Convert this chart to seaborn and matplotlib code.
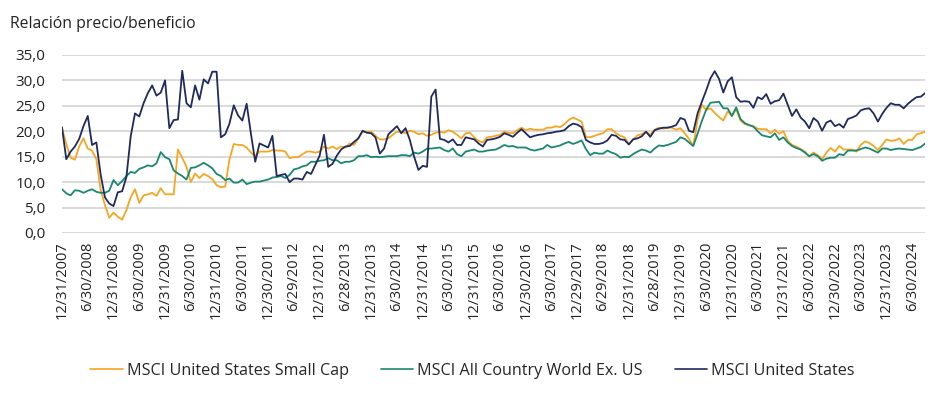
"""
Relación precio/beneficio: MSCI US Small Cap, ACWI ex US, MSCI US.
"""
import matplotlib
matplotlib.use("Agg")
import matplotlib.pyplot as plt
import matplotlib.ticker as mticker
import pandas as pd
import seaborn as sns

# fin de mes, 12/2007 .. 9/2024 (202 meses)
small_cap = [
    20.6, 17.5, 14.8, 14.4, 17.0, 18.6, 16.6, 16.2, 14.5, 8.5, 5.5, 3.0,
    4.0, 3.2, 2.6, 4.5, 7.0, 8.6, 5.9, 7.4, 7.6, 7.9, 7.3, 8.8,
    7.6, 7.6, 7.6, 16.4, 14.8, 13.0, 10.0, 11.7, 10.8, 11.6, 11.2, 10.6,
    9.4, 9.0, 9.1, 14.5, 17.5, 17.3, 17.3, 16.8, 15.8, 15.1, 16.0, 16.0,
    16.0, 16.3, 16.2, 16.2, 16.0, 14.7, 14.9, 14.9, 15.5, 16.0, 16.0, 15.8,
    16.0, 17.0, 16.6, 17.0, 16.5, 17.0, 16.8, 17.6, 17.3, 18.6, 19.9, 19.9,
    19.9, 19.1, 18.4, 18.4, 18.6, 19.3, 19.9, 19.9, 19.6, 20.1, 19.9, 19.4,
    19.6, 19.1, 19.3, 19.7, 19.9, 19.7, 20.2, 19.9, 19.3, 18.6, 19.6, 19.7,
    18.8, 18.1, 17.8, 18.8, 18.9, 19.1, 19.3, 19.9, 19.7, 19.6, 20.2, 20.7,
    20.2, 20.5, 20.3, 20.3, 20.3, 20.7, 20.7, 21.0, 20.8, 21.4, 22.2, 22.7,
    22.3, 21.9, 18.9, 18.8, 19.1, 19.4, 19.6, 20.4, 20.4, 19.6, 19.1, 18.8,
    17.5, 18.4, 19.2, 19.4, 19.9, 19.3, 20.3, 20.7, 20.5, 20.7, 20.7, 20.3,
    20.6, 19.6, 18.5, 17.1, 22.2, 25.2, 24.2, 24.5, 23.6, 22.8, 22.1, 23.9,
    23.0, 24.3, 22.1, 21.4, 21.2, 21.0, 20.5, 20.4, 20.4, 19.6, 20.3, 19.5,
    20.0, 18.1, 17.3, 17.0, 16.5, 16.0, 15.0, 15.8, 15.3, 14.5, 15.8, 16.7,
    16.0, 17.1, 16.4, 16.4, 16.4, 16.0, 17.3, 18.0, 17.7, 17.1, 16.3, 17.3,
    18.4, 18.1, 18.2, 18.6, 17.5, 18.3, 18.3, 19.4, 19.6, 19.9,
]
acwi_ex_us = [
    8.6, 7.8, 7.4, 8.4, 8.3, 7.9, 8.3, 8.6, 8.1, 7.9, 7.9, 8.3,
    10.4, 9.4, 10.2, 11.2, 12.0, 11.8, 12.6, 12.9, 13.3, 13.1, 13.7, 15.9,
    14.9, 14.5, 12.3, 11.7, 11.2, 10.5, 12.8, 12.9, 13.3, 13.8, 13.3, 12.7,
    11.6, 11.2, 10.4, 10.7, 9.9, 9.9, 10.5, 9.6, 9.9, 10.1, 10.1, 10.3,
    10.5, 10.9, 11.0, 11.2, 10.8, 11.4, 12.5, 12.7, 13.1, 13.3, 14.0, 14.0,
    14.2, 14.3, 14.7, 14.3, 14.3, 13.7, 14.0, 14.0, 14.3, 15.1, 15.1, 15.3,
    14.9, 15.0, 14.9, 15.0, 15.1, 15.1, 15.1, 15.3, 15.3, 15.1, 15.8, 15.6,
    16.0, 16.6, 16.6, 16.7, 16.8, 16.3, 16.0, 16.6, 15.5, 15.1, 16.0, 16.2,
    16.4, 16.0, 16.0, 16.2, 16.3, 16.4, 16.8, 17.3, 17.0, 17.1, 16.8, 16.8,
    16.8, 16.4, 16.2, 16.4, 16.6, 17.3, 16.8, 17.0, 17.2, 17.6, 17.9, 17.5,
    17.8, 18.2, 16.5, 15.3, 15.8, 15.6, 15.6, 16.2, 15.8, 15.5, 14.8, 15.0,
    14.9, 15.5, 16.0, 16.4, 16.2, 15.8, 16.6, 17.2, 17.1, 17.3, 17.6, 17.9,
    18.8, 18.5, 17.8, 17.1, 19.5, 22.0, 24.2, 25.6, 25.7, 25.8, 24.5, 24.5,
    23.0, 24.7, 22.4, 21.6, 21.2, 20.9, 20.0, 19.2, 19.0, 18.8, 19.6, 18.3,
    18.8, 17.8, 17.1, 16.7, 16.4, 15.8, 15.1, 15.5, 15.1, 14.2, 14.6, 14.8,
    14.8, 15.5, 15.3, 16.2, 16.2, 16.2, 16.5, 16.8, 16.6, 16.2, 15.8, 16.6,
    16.6, 16.3, 16.5, 16.6, 16.5, 16.4, 16.3, 16.6, 16.9, 17.6,
]
msci_us = [
    20.8, 14.5, 16.0, 17.0, 18.5, 21.0, 23.0, 17.3, 17.8, 11.5, 7.0, 5.8,
    5.3, 8.0, 8.2, 11.0, 19.0, 23.5, 22.9, 25.5, 27.5, 29.0, 27.0, 27.6,
    30.0, 20.6, 22.2, 22.3, 31.9, 25.5, 24.7, 29.0, 26.2, 30.2, 29.4, 31.7,
    31.7, 18.8, 19.4, 21.5, 25.1, 23.1, 22.1, 25.4, 19.5, 14.0, 17.6, 17.2,
    16.8, 19.1, 11.2, 11.4, 11.6, 10.0, 10.7, 10.7, 10.5, 12.0, 11.6, 13.4,
    15.2, 19.3, 13.0, 13.6, 15.2, 16.4, 17.0, 17.1, 17.9, 18.6, 20.1, 19.7,
    19.6, 18.8, 15.6, 16.6, 19.4, 20.2, 21.0, 19.6, 20.6, 18.3, 15.0, 12.4,
    13.2, 13.0, 26.8, 28.2, 18.5, 18.3, 17.8, 18.4, 17.3, 17.3, 18.8, 18.6,
    18.4, 17.6, 17.0, 18.3, 18.4, 18.6, 18.9, 19.6, 19.3, 18.9, 19.7, 20.4,
    19.6, 18.8, 19.1, 19.3, 19.4, 19.6, 19.7, 19.9, 20.0, 20.2, 21.0, 21.5,
    21.3, 20.8, 18.3, 17.8, 17.5, 17.5, 17.7, 18.2, 19.3, 19.1, 18.4, 18.3,
    17.4, 18.4, 18.6, 19.0, 19.9, 18.9, 20.2, 20.5, 20.7, 20.7, 20.9, 21.2,
    22.6, 22.3, 20.1, 19.8, 23.5, 25.8, 28.0, 30.4, 31.8, 30.3, 27.6, 29.8,
    30.6, 26.7, 25.8, 25.9, 25.8, 24.6, 26.7, 26.3, 27.3, 25.4, 25.9, 26.1,
    27.4, 25.2, 23.0, 24.3, 22.7, 21.9, 20.6, 22.6, 21.9, 20.1, 21.7, 22.1,
    21.0, 21.4, 20.7, 22.4, 22.7, 23.1, 24.1, 24.4, 24.5, 23.5, 21.9, 23.4,
    24.6, 25.5, 25.2, 25.2, 24.5, 25.4, 26.1, 26.7, 26.8, 27.5,
]

tick_labels = [
    "12/31/2007", "6/30/2008", "12/31/2008", "6/30/2009", "12/31/2009",
    "6/30/2010", "12/31/2010", "6/30/2011", "12/30/2011", "6/29/2012",
    "12/31/2012", "6/28/2013", "12/31/2013", "6/30/2014", "12/31/2014",
    "6/30/2015", "12/31/2015", "6/30/2016", "12/30/2016", "6/30/2017",
    "12/29/2017", "6/29/2018", "12/31/2018", "6/28/2019", "12/31/2019",
    "6/30/2020", "12/31/2020", "6/30/2021", "12/31/2021", "6/30/2022",
    "12/30/2022", "6/30/2023", "12/31/2023", "6/30/2024",
]

series_names = [
    "MSCI United States Small Cap",
    "MSCI All Country World Ex. US",
    "MSCI United States",
]
colors = ["#F5A623", "#1A8770", "#1F2A5E"]

sns.set_theme(style="white")
plt.rcParams["font.family"] = ["Open Sans", "DejaVu Sans"]

n = len(msci_us)
df = pd.DataFrame({
    "mes": list(range(n)) * 3,
    "pe": small_cap + acwi_ex_us + msci_us,
    "serie": [series_names[0]] * n + [series_names[1]] * n + [series_names[2]] * n,
})

fig = plt.figure(figsize=(9.45, 3.98), dpi=100)
ax = fig.add_axes([0.0656, 0.4146, 0.9134, 0.4474])

sns.lineplot(data=df, x="mes", y="pe", hue="serie", hue_order=series_names,
             palette=colors, linewidth=1.3, ax=ax)

ax.set_xlim(0, n - 1)
ax.set_ylim(0, 35)
ax.set_yticks(range(0, 36, 5))
ax.yaxis.set_major_formatter(mticker.FuncFormatter(lambda v, p: f"{v:.1f}".replace(".", ",")))
ax.set_xticks(range(0, 6 * len(tick_labels), 6))
ax.set_xticklabels(tick_labels, rotation=90)
ax.tick_params(axis="y", labelsize=11, pad=12, length=0, colors="#222222")
ax.tick_params(axis="x", labelsize=10.5, pad=6, length=0, colors="#222222")
ax.grid(axis="y", color="#d9d9d9", linewidth=1.4)
ax.grid(axis="x", visible=False)
ax.set_axisbelow(True)
for s in ax.spines.values():
    s.set_visible(False)
ax.set_xlabel("")
ax.set_ylabel("")

fig.text(0.011, 0.94, "Relación precio/beneficio", fontsize=11.3, color="#222222",
         ha="left", va="center")

handles, labels = ax.get_legend_handles_labels()
ax.get_legend().remove()
for h in handles:
    h.set_linewidth(1.2)
fig.legend(handles, labels, loc="center", bbox_to_anchor=(0.5, 0.068), ncol=3,
           frameon=False, fontsize=11.6, handlelength=2.0, handletextpad=0.25,
           columnspacing=2.0)

fig.savefig("out.png", dpi=100, facecolor="white")
